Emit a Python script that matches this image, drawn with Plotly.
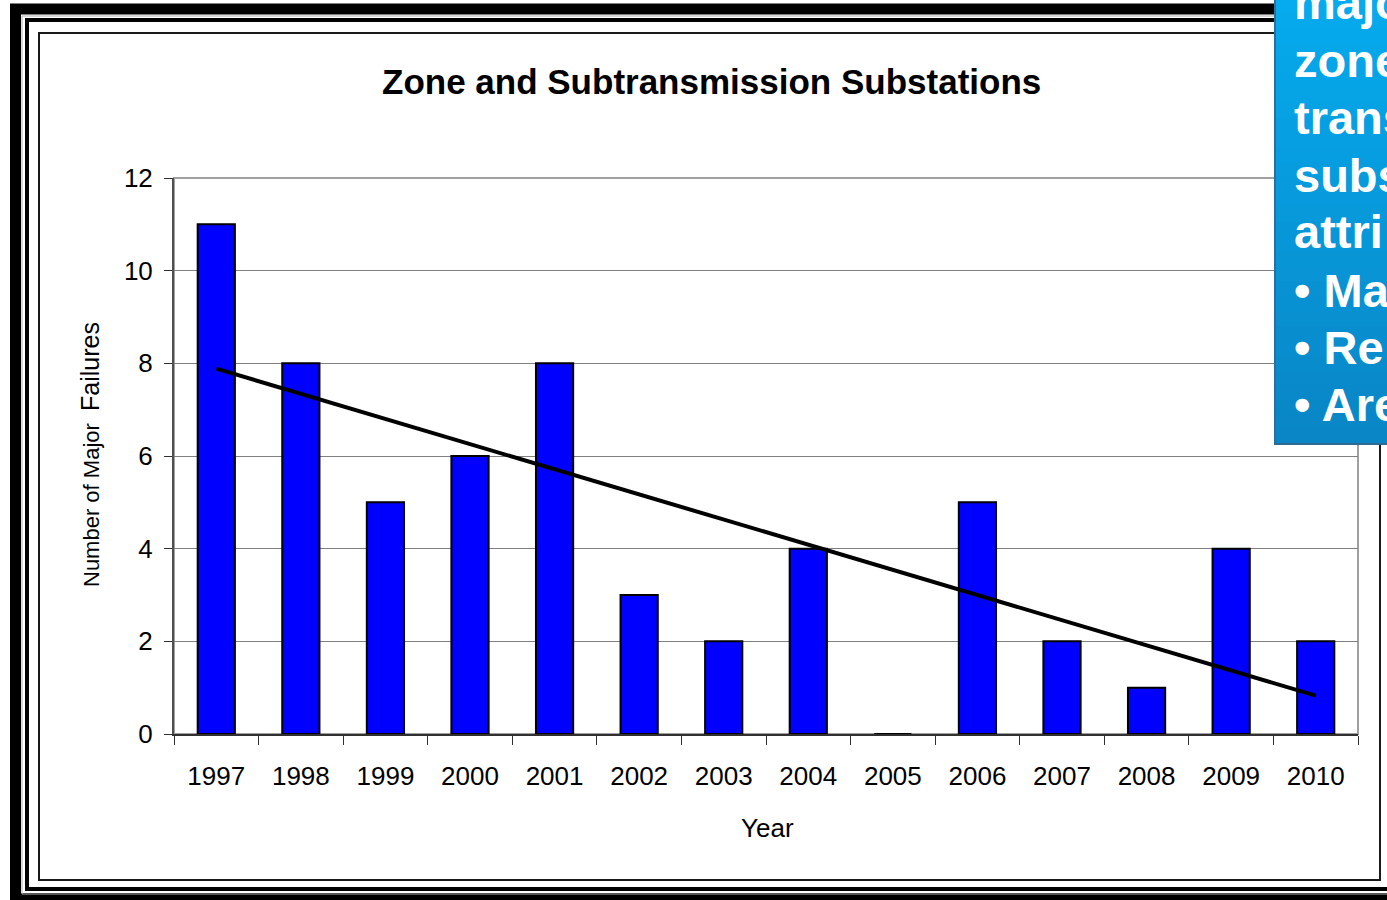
import numpy as np
import plotly.graph_objects as go

# ---- data ----
years = ["1997", "1998", "1999", "2000", "2001", "2002", "2003",
         "2004", "2005", "2006", "2007", "2008", "2009", "2010"]
failures = [11, 8, 5, 6, 8, 3, 2, 4, 0, 5, 2, 1, 4, 2]
y_ticks = [0, 2, 4, 6, 8, 10, 12]
title_text = "Zone and Subtransmission Substations"
x_title = "Year"
y_title = "Number of Major  Failures"
callout_lines = ["majo", "zone", "trans", "subs", "attri", "• Ma", "• Re", "• Are"]

# linear (least squares) trend, as in the spreadsheet trendline
idx = np.arange(len(failures))
slope, intercept = np.polyfit(idx, failures, 1)
trend_y = [intercept + slope * idx[0], intercept + slope * idx[-1]]

W, H = 1387, 900
L, R, T, B = 174, 1358, 178, 734


def px(x):
    return (x - L) / (R - L)


def py(y):
    return (B - y) / (B - T)


NARROW = "Liberation Sans Narrow, Arial Narrow, Liberation Sans, Arial, sans-serif"
SANS = "Liberation Sans, Arial, sans-serif"

fig = go.Figure()
fig.add_trace(go.Bar(
    x=years, y=failures, width=0.44,
    marker=dict(color="#0000FF", line=dict(color="#000000", width=2)),
    showlegend=False, hoverinfo="x+y",
))
fig.add_trace(go.Scatter(
    x=[years[0], years[-1]], y=trend_y, mode="lines",
    line=dict(color="#000000", width=4), showlegend=False,
))

shapes = []
# plot frame (gray top/right)
shapes.append(dict(type="rect", xref="paper", yref="paper", x0=0, x1=1, y0=0, y1=1,
                   line=dict(color="#A0A0A0", width=2), layer="below"))


def frame(x0, y0, x1, y1, w, color="#000000"):
    shapes.append(dict(type="rect", xref="paper", yref="paper",
                       x0=px(x0), x1=px(x1), y0=py(y1), y1=py(y0),
                       line=dict(color=color, width=w), fillcolor="rgba(0,0,0,0)"))


frame(15.5, 9, 1420, 898.5, 11)
frame(22, 16, 1412, 894, 1, "#B0B0B0")
frame(27, 20, 1405, 889, 4)
frame(39, 33, 1380, 880, 2, "#1A1A1A")

# callout box with vertical gradient (overlapping strips)
top_c = np.array([0x05, 0xAB, 0xEE])
bot_c = np.array([0x0A, 0x86, 0xC6])
n = 30
box_top, box_bot, box_left = -2, 445, 1274
step = (box_bot - box_top) / n
for i in range(n):
    f = i / (n - 1)
    c = (top_c * (1 - f) + bot_c * f).astype(int)
    ya = box_top + step * i
    yb = min(box_top + step * (i + 1) + 3, box_bot)
    col = "rgb(%d,%d,%d)" % tuple(c)
    shapes.append(dict(type="rect", xref="paper", yref="paper",
                       x0=px(box_left), x1=px(1400), y0=py(yb), y1=py(ya),
                       line=dict(width=0), fillcolor=col))
shapes.append(dict(type="line", xref="paper", yref="paper",
                   x0=px(box_left + 1), x1=px(box_left + 1), y0=py(box_bot), y1=py(box_top),
                   line=dict(color="#2C6E9C", width=2)))
shapes.append(dict(type="line", xref="paper", yref="paper",
                   x0=px(box_left), x1=px(1400), y0=py(box_bot - 1), y1=py(box_bot - 1),
                   line=dict(color="#2F6A92", width=2)))

annotations = [
    dict(text=title_text, xref="paper", yref="paper", x=px(711), y=py(82),
         xanchor="center", yanchor="middle", showarrow=False,
         font=dict(family=SANS, size=35, color="#000000", weight="bold")),
    dict(text=x_title, xref="paper", yref="paper", x=px(767), y=py(828),
         xanchor="center", yanchor="middle", showarrow=False,
         font=dict(family=NARROW, size=26, color="#000000")),
    dict(text="Number of Major  <span style='font-size:25px'>Failures</span>",
         xref="paper", yref="paper", x=px(90), y=py(455), textangle=-90,
         xanchor="center", yanchor="middle", showarrow=False,
         font=dict(family=SANS, size=22, color="#000000")),
]
line_y = [3, 60, 117, 175, 232, 290, 347, 404]
for txt, yy in zip(callout_lines, line_y):
    annotations.append(dict(text=txt, xref="paper", yref="paper", x=px(1292), y=py(yy),
                            xanchor="left", yanchor="middle", showarrow=False,
                            font=dict(family=SANS, size=47, color="#FFFFFF", weight="bold")))

fig.update_layout(
    width=W, height=H, autosize=False,
    margin=dict(l=L, r=W - R, t=T, b=H - B, pad=0),
    paper_bgcolor="#FFFFFF", plot_bgcolor="#FFFFFF",
    shapes=shapes, annotations=annotations, bargap=0.56,
    xaxis=dict(type="category", range=[-0.5, len(years) - 0.5],
               showgrid=False, showline=True, linecolor="#303030", linewidth=2,
               ticks="outside", tickson="boundaries", ticklen=9, tickwidth=1,
               tickcolor="#303030", ticklabelstandoff=18,
               tickfont=dict(family=NARROW, size=26, color="#000000")),
    yaxis=dict(range=[0, 12], tickvals=y_ticks, showgrid=True, gridcolor="#808080",
               gridwidth=1, showline=True, linecolor="#505050", linewidth=2,
               ticks="outside", ticklen=8, tickcolor="#303030", tickwidth=1,
               ticklabelstandoff=6, zeroline=False,
               tickfont=dict(family=NARROW, size=26, color="#000000")),
)

fig.write_html("out.html", config={"displayModeBar": False},
               post_script="document.body.style.margin='0';document.body.style.overflow='hidden';")
